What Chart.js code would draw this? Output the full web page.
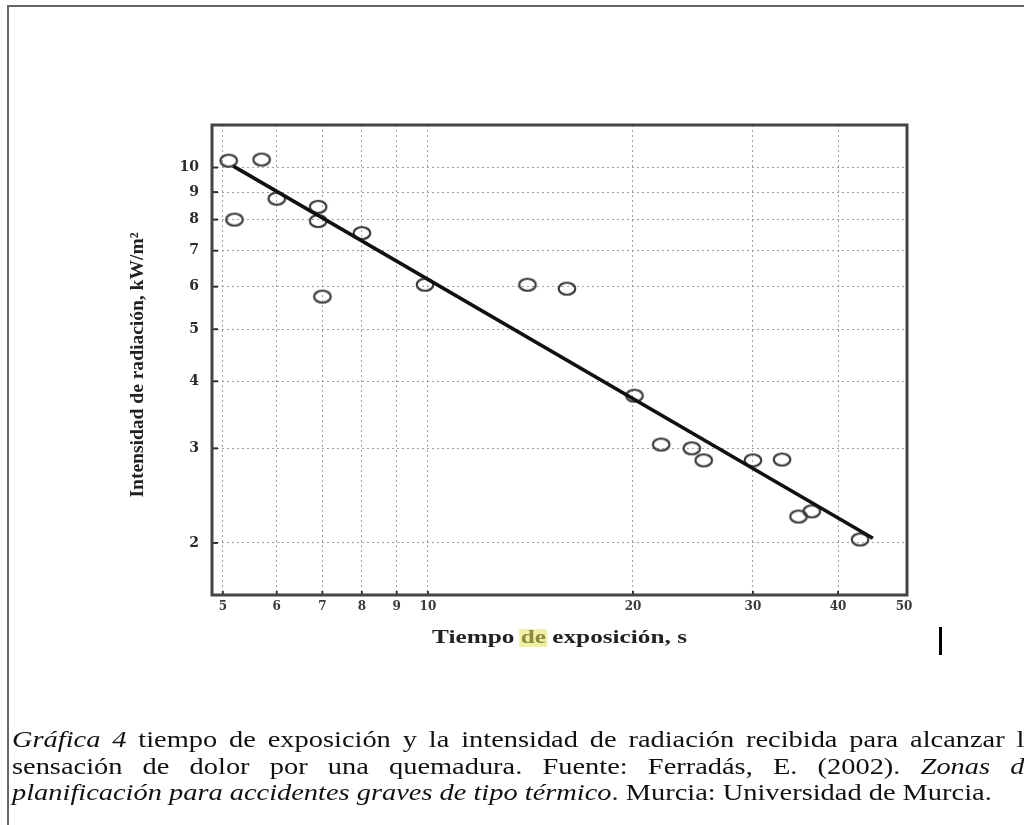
<!DOCTYPE html>
<html>
<head>
<meta charset="utf-8">
<script src="https://cdn.jsdelivr.net/npm/chart.js@4/dist/chart.umd.min.js"></script>
<style>
  html, body { margin: 0; padding: 0; background: #fff; overflow: hidden; }
  #wrap { position: relative; width: 1024px; height: 825px; }
  #chart { position: absolute; left: 0; top: 0; }
  #frame { position: absolute; left: 7px; top: 5px; width: 1100px; height: 900px;
           border-left: 2px solid #666; border-top: 2px solid #666; }
  #cursor { position: absolute; left: 939px; top: 627px; width: 3px; height: 28px; background: #000; }
  #caption { position: absolute; left: 12px; top: 727px; font-family: "Liberation Serif", "Times New Roman", serif;
             font-size: 23px; line-height: 26.5px; color: #111; transform: scaleX(1.235); transform-origin: 0 0; }
  #caption .ln { width: 830px; text-align: justify; text-align-last: justify; white-space: nowrap; }
  #caption .last { text-align: left; text-align-last: left; }
</style>
</head>
<body>
<div id="wrap">
  <div id="frame"></div>
  <canvas id="chart" width="1024" height="825"></canvas>
  <div id="cursor"></div>
  <div id="caption">
    <div class="ln"><i>Gráfica 4</i> tiempo de exposición y la intensidad de radiación recibida para alcanzar la</div>
    <div class="ln">sensación de dolor por una quemadura. Fuente: Ferradás, E. (2002). <i>Zonas de</i></div>
    <div class="ln last"><i>planificación para accidentes graves de tipo térmico</i>. Murcia: Universidad de Murcia.</div>
  </div>
</div>
<script>
// measured points (exposure time s, radiation kW/m2)
const tiempo = [5.1, 5.7, 5.2, 6.0, 6.9, 6.9, 8.0, 7.0, 9.9, 14.0, 16.0, 20.1, 22.0, 24.4, 25.4, 30.0, 33.1, 35.0, 36.6, 43.1];
const intensidad = [10.3, 10.35, 8.0, 8.75, 8.45, 7.95, 7.55, 5.75, 6.05, 6.05, 5.95, 3.76, 3.05, 3.0, 2.85, 2.85, 2.86, 2.24, 2.29, 2.03];

// fitted line end points
const ajusteX = [5.18, 45.0];
const ajusteY = [10.06, 2.04];

const xTicks = [5, 6, 7, 8, 9, 10, 20, 30, 40, 50];
const yTicks = [2, 3, 4, 5, 6, 7, 8, 9, 10];
const xGrid = [5, 6, 7, 8, 9, 10, 20, 30, 40];

const tituloX = ['Tiempo ', 'de', ' exposición, s'];
const tituloY = 'Intensidad de radiación, kW/m²';

// hollow oval marker like the scanned figure
function makeMarker() {
  const c = document.createElement('canvas');
  c.width = 22; c.height = 16;
  const g = c.getContext('2d');
  g.strokeStyle = '#3a3a3a';
  g.lineWidth = 2.2;
  g.beginPath();
  g.ellipse(11, 8, 8.3, 6, 0, 0, Math.PI * 2);
  g.stroke();
  return c;
}

const decor = {
  id: 'decor',
  afterDraw(chart) {
    const ctx = chart.ctx;
    const a = chart.chartArea;
    const xs = chart.scales.x, ys = chart.scales.y;
    ctx.save();

    // small tick marks inside the frame
    ctx.strokeStyle = '#333';
    ctx.lineWidth = 2;
    yTicks.forEach(v => {
      const py = ys.getPixelForValue(v);
      ctx.beginPath(); ctx.moveTo(a.left, py); ctx.lineTo(a.left + 6, py); ctx.stroke();
    });
    xGrid.forEach(v => {
      const px = xs.getPixelForValue(v);
      ctx.beginPath(); ctx.moveTo(px, a.bottom); ctx.lineTo(px, a.bottom - 4); ctx.stroke();
    });

    // plot frame
    ctx.strokeStyle = '#444';
    ctx.lineWidth = 3;
    ctx.strokeRect(a.left, a.top, a.right - a.left, a.bottom - a.top);

    // y title (condensed bold serif)
    ctx.font = 'bold 19px "Liberation Serif", serif';
    ctx.fillStyle = '#222';
    ctx.textBaseline = 'middle';
    ctx.textAlign = 'center';
    const wy = ctx.measureText(tituloY).width;
    ctx.translate(138, (a.top + a.bottom) / 2 + 5);
    ctx.rotate(-Math.PI / 2);
    ctx.scale(265 / wy, 1);
    ctx.fillText(tituloY, 0, 0);
    ctx.setTransform(1, 0, 0, 1, 0, 0);

    // x title with the highlighted "de"
    ctx.font = 'bold 18px "Liberation Serif", serif';
    ctx.textAlign = 'left';
    const widths = tituloX.map(t => ctx.measureText(t).width);
    const total = widths.reduce((s, w) => s + w, 0);
    const k = 255 / total;
    ctx.translate((a.left + a.right) / 2 - 255 / 2, 638);
    ctx.scale(k, 1);
    let cx = 0;
    tituloX.forEach((t, i) => {
      if (i === 1) {
        ctx.fillStyle = '#f1f0a6';
        ctx.fillRect(cx - 1, -9, widths[i] + 2, 18);
        ctx.fillStyle = '#8c8a3c';
      } else {
        ctx.fillStyle = '#222';
      }
      ctx.fillText(t, cx, 0);
      cx += widths[i];
    });
    ctx.restore();
  }
};

new Chart(document.getElementById('chart').getContext('2d'), {
  type: 'scatter',
  data: {
    datasets: [{
      label: 'ajuste',
      data: ajusteX.map((x, i) => ({ x: x, y: ajusteY[i] })),
      showLine: true,
      borderColor: '#111',
      borderWidth: 3.5,
      pointRadius: 0
    }, {
      label: 'datos',
      data: tiempo.map((x, i) => ({ x: x, y: intensidad[i] })),
      pointStyle: makeMarker(),
      pointRadius: 8
    }]
  },
  plugins: [decor],
  options: {
    responsive: false,
    animation: false,
    events: [],
    layout: { autoPadding: false, padding: { top: 125, right: 117, left: 0, bottom: 0 } },
    plugins: { legend: { display: false }, tooltip: { enabled: false } },
    scales: {
      x: {
        type: 'logarithmic',
        min: 4.82,
        max: 50.5,
        afterBuildTicks: s => { s.ticks = xTicks.map(v => ({ value: v })); },
        afterFit: s => { s.height = 230; },
        grid: {
          drawTicks: false,
          color: ctx => (ctx.tick && ctx.tick.value === 50) ? 'rgba(0,0,0,0)' : 'rgba(120,120,120,0.7)',
          lineWidth: 1
        },
        border: { display: false, dash: [2, 3] },
        ticks: {
          autoSkip: false,
          maxRotation: 0,
          padding: 5,
          color: '#3a3a3a',
          font: { family: '"DejaVu Serif", serif', size: 12, weight: 'bold' },
          callback: v => String(v)
        }
      },
      y: {
        type: 'logarithmic',
        min: 1.6,
        max: 12,
        afterBuildTicks: s => { s.ticks = yTicks.map(v => ({ value: v })); },
        afterFit: s => { s.width = 212; },
        grid: { drawTicks: false, color: 'rgba(120,120,120,0.7)', lineWidth: 1 },
        border: { display: false, dash: [2, 3] },
        ticks: {
          autoSkip: false,
          padding: 13,
          color: '#2a2a2a',
          font: { family: '"DejaVu Serif", serif', size: 14, weight: 'bold' },
          callback: v => String(v)
        }
      }
    }
  }
});
</script>
</body>
</html>
